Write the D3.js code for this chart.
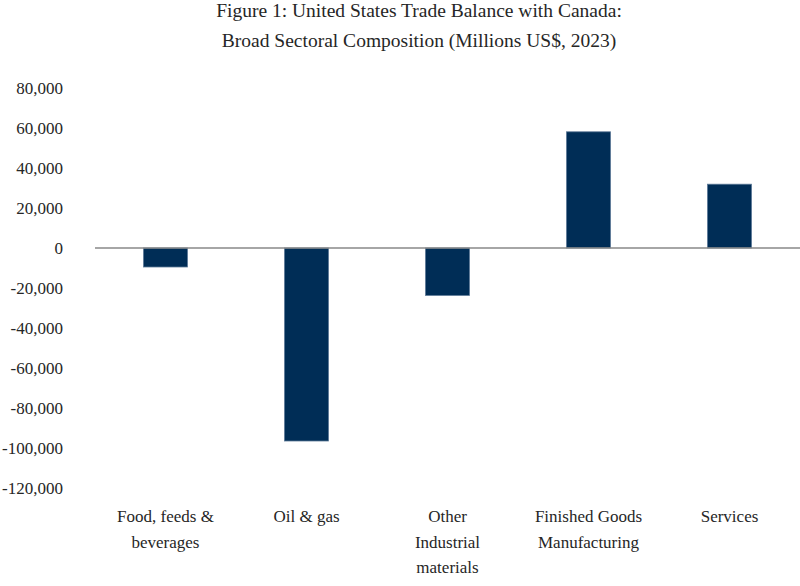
<!DOCTYPE html>
<html>
<head>
<meta charset="utf-8">
<script src="https://cdn.jsdelivr.net/npm/d3@7"></script>
<style>
  html, body { margin: 0; padding: 0; background: #fff; }
  svg { display: block; }
  text { font-family: "Liberation Serif", "DejaVu Serif", serif; fill: #262626; }
</style>
</head>
<body>
<svg id="chart" width="800" height="586"></svg>
<script>
const titleLines = ["Figure 1: United States Trade Balance with Canada:", "Broad Sectoral Composition (Millions US$, 2023)"];
const categories = ["Food, feeds & beverages", "Oil & gas", "Other Industrial materials", "Finished Goods Manufacturing", "Services"];
const categoryLabelLines = [["Food, feeds &", "beverages"], ["Oil & gas"], ["Other", "Industrial", "materials"], ["Finished Goods", "Manufacturing"], ["Services"]];
const values = [-9500, -96500, -23700, 58100, 31900];
const yTicks = [80000, 60000, 40000, 20000, 0, -20000, -40000, -60000, -80000, -100000, -120000];

const svg = d3.select("#chart");
const x = d3.scaleBand().domain(categories).range([95, 800]).paddingInner(0.688).paddingOuter(0.344);
const y = d3.scaleLinear().domain([-120000, 80000]).range([488, 88]);

// Title
svg.append("g").selectAll("text").data(titleLines).join("text")
  .attr("x", 419).attr("y", (d, i) => 17 + i * 30)
  .attr("text-anchor", "middle").style("font-size", "19.5px").text(d => d);

// Y axis labels
const fmt = d3.format(",");
const yAxis = d3.axisLeft(y).tickValues(yTicks).tickSize(0).tickPadding(0)
  .tickFormat(d => fmt(d).replace("\u2212", "-"));
const gy = svg.append("g").attr("transform", "translate(63,0)").call(yAxis);
gy.attr("font-family", null);
gy.select(".domain").remove();
gy.selectAll("text").style("font-size", "17px").style("font-family", '"Liberation Serif", serif').attr("fill", "#262626");

// Bars
svg.append("g").selectAll("rect").data(values).join("rect")
  .attr("x", (d, i) => x(categories[i]))
  .attr("width", x.bandwidth())
  .attr("y", d => y(Math.max(0, d)))
  .attr("height", d => Math.abs(y(d) - y(0)))
  .attr("fill", "#002d56")
  .attr("stroke", "#5b7896")
  .attr("stroke-width", 0.8);

// Zero line
svg.append("line").attr("x1", 95).attr("x2", 800).attr("y1", y(0)).attr("y2", y(0))
  .attr("stroke", "#888").attr("stroke-width", 1.5);

// Category labels
const gl = svg.append("g");
categories.forEach((c, i) => {
  const cx = x(c) + x.bandwidth() / 2;
  const t = gl.append("text").attr("text-anchor", "middle").style("font-size", "17px");
  categoryLabelLines[i].forEach((line, j) => {
    t.append("tspan").attr("x", cx).attr("y", 522 + j * 25.5).text(line);
  });
});
</script>
</body>
</html>
